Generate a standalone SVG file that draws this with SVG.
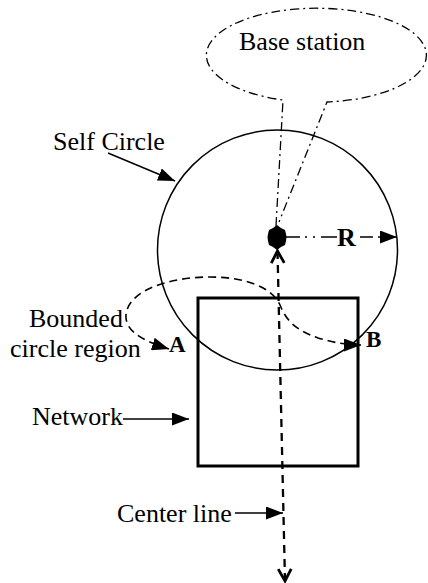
<svg xmlns="http://www.w3.org/2000/svg" width="428" height="583" viewBox="0 0 428 583">
<style>
  text { font-family: "Liberation Serif", "Times New Roman", serif; fill: #000; }
  .lbl { font-size: 26px; }
  .bold { font-size: 23px; font-weight: bold; }
  .solid { fill: none; stroke: #000; stroke-width: 1.5; }
  .dashdot { fill: none; stroke: #000; stroke-width: 1.3; stroke-dasharray: 9 4 2 4; }
  .dash { fill: none; stroke: #000; stroke-width: 1.6; stroke-dasharray: 8 5; }
  .center { fill: none; stroke: #000; stroke-width: 2.3; stroke-dasharray: 8 6; }
</style>
<defs>
  <marker id="tri" markerUnits="userSpaceOnUse" markerWidth="17" markerHeight="13" refX="17" refY="6.5" orient="auto-start-reverse" viewBox="0 0 17 13">
    <path d="M0,0 L17,6.5 L0,13 z" fill="#000"/>
  </marker>
  <marker id="chev" markerUnits="userSpaceOnUse" markerWidth="18" markerHeight="18" refX="14" refY="8" orient="auto-start-reverse" viewBox="0 0 18 16">
    <path d="M2,1.5 L14,8 L2,14.5" fill="none" stroke="#000" stroke-width="2.8"/>
  </marker>
</defs>

<g id="base-station">
  <path class="dashdot" d="M276,226 L283,100 A110 47 0 1 1 327,102 L279,222"/>
  <text class="lbl" x="239" y="50">Base station</text>
</g>

<g id="self-circle">
  <circle class="solid" cx="277.5" cy="250" r="120"/>
  <text class="lbl" x="53" y="150">Self Circle</text>
</g>

<g id="network">
  <rect x="198" y="298" width="160" height="168" fill="none" stroke="#000" stroke-width="3"/>
  <text class="lbl" x="32" y="425">Network</text>
</g>

<g id="center-dot">
  <polygon points="277,225 281,228 285,230 286,234 286.5,237 286,241 285,245 281,247 277,250 273,247 269,245 268,241 267.5,237 268,234 269,230 273,228" fill="#000"/>
</g>

<g id="bounded-region">
  <text class="lbl" x="29" y="327">Bounded</text>
  <text class="lbl" x="10" y="357">circle region</text>
  <text class="bold" x="169" y="352">A</text>
  <text class="bold" x="366" y="347">B</text>
</g>

<g id="radius">
  <text class="bold" x="337" y="246" style="font-size:26px">R</text>
</g>

<g id="center-line-label">
  <text class="lbl" x="117" y="522">Center line</text>
</g>

<g id="connectors">
  <path class="dash" d="M169,349 C140,340 125,330 126,315 C128,290 170,277 210,277 C245,277 272,287 280,305 C286,320 295,330 318,338 C335,343 348,345 361,345" marker-start="url(#tri)" marker-end="url(#tri)"/>
  <path class="solid" d="M286,237 H300 M305,237 H307 M313,237 H315 M321,237 H337"/>
  <path class="solid" d="M360,237 H373 M378,237 H397" marker-end="url(#tri)"/>
  <line class="center" x1="277.5" y1="251" x2="285" y2="581" marker-start="url(#chev)" marker-end="url(#chev)"/>
  <line class="solid" x1="108" y1="153" x2="175" y2="181" marker-end="url(#tri)"/>
  <line class="solid" x1="123" y1="419" x2="189" y2="419" marker-end="url(#tri)"/>
  <line class="solid" x1="235" y1="513" x2="283" y2="513" marker-end="url(#tri)"/>
</g>
</svg>
